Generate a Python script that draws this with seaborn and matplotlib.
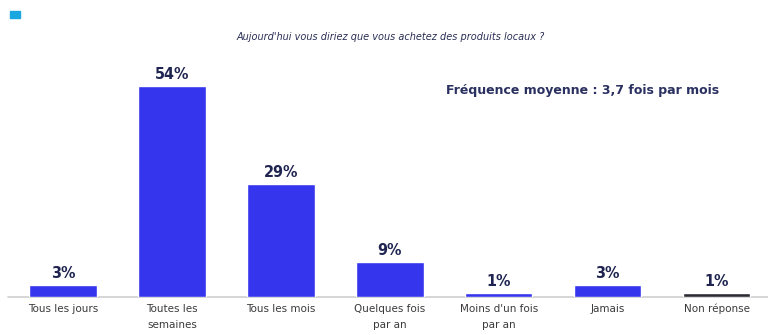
import matplotlib
matplotlib.use("Agg")
import matplotlib.pyplot as plt
import seaborn as sns
import pandas as pd

categories = ["Tous les jours", "Toutes les\nsemaines", "Tous les mois",
              "Quelques fois\npar an", "Moins d'un fois\npar an", "Jamais", "Non réponse"]
values = [3, 54, 29, 9, 1, 3, 1]
value_labels = ["3%", "54%", "29%", "9%", "1%", "3%", "1%"]
bar_colors = ["#3535ee"] * 6 + ["#2b2b33"]

title = "Aujourd'hui vous diriez que vous achetez des produits locaux ?"
note = "Fréquence moyenne : 3,7 fois par mois"

sns.set_style("white")
plt.rcParams['font.family'] = ['DejaVu Sans']

df = pd.DataFrame({"cat": categories, "val": values})

fig = plt.figure(figsize=(7.68, 3.35), dpi=100)
ax = fig.add_axes([0.011, 0.1134, 0.993, 0.70])
sns.barplot(data=df, x="cat", y="val", hue="cat", palette=bar_colors,
            legend=False, width=0.62, ax=ax, saturation=1)
ax.set_ylim(0, 60)
ax.set_xlim(-0.5, len(categories) - 0.5)
ax.axhline(0, color="#d0d0d0", lw=1.2, zorder=0, clip_on=False)
for s in ax.spines.values():
    s.set_visible(False)
ax.set_yticks([])
ax.set_xlabel("")
ax.set_ylabel("")
ax.tick_params(axis="x", length=0, pad=5, labelsize=7.5, labelcolor="#3a3a3a")
for lbl in ax.get_xticklabels():
    lbl.set_linespacing(1.75)

for i, (v, t) in enumerate(zip(values, value_labels)):
    ax.annotate(t, (i, v), xytext=(0, 3), textcoords="offset points",
                ha="center", va="bottom", fontsize=11.5, fontweight="bold",
                color="#1f2550", fontstretch="condensed")

fig.text(0.508, 0.89, title, ha="center", va="center", fontsize=7,
         style="italic", color="#2a2f55")
fig.text(0.758, 0.731, note, ha="center", va="center",
         fontsize=9, fontweight="bold", color="#2a3060")
fig.patches.append(plt.Rectangle((0.013, 0.946), 0.013, 0.02, transform=fig.transFigure,
                                 color="#1aa7df", figure=fig))

fig.savefig("out.png", dpi=100)
